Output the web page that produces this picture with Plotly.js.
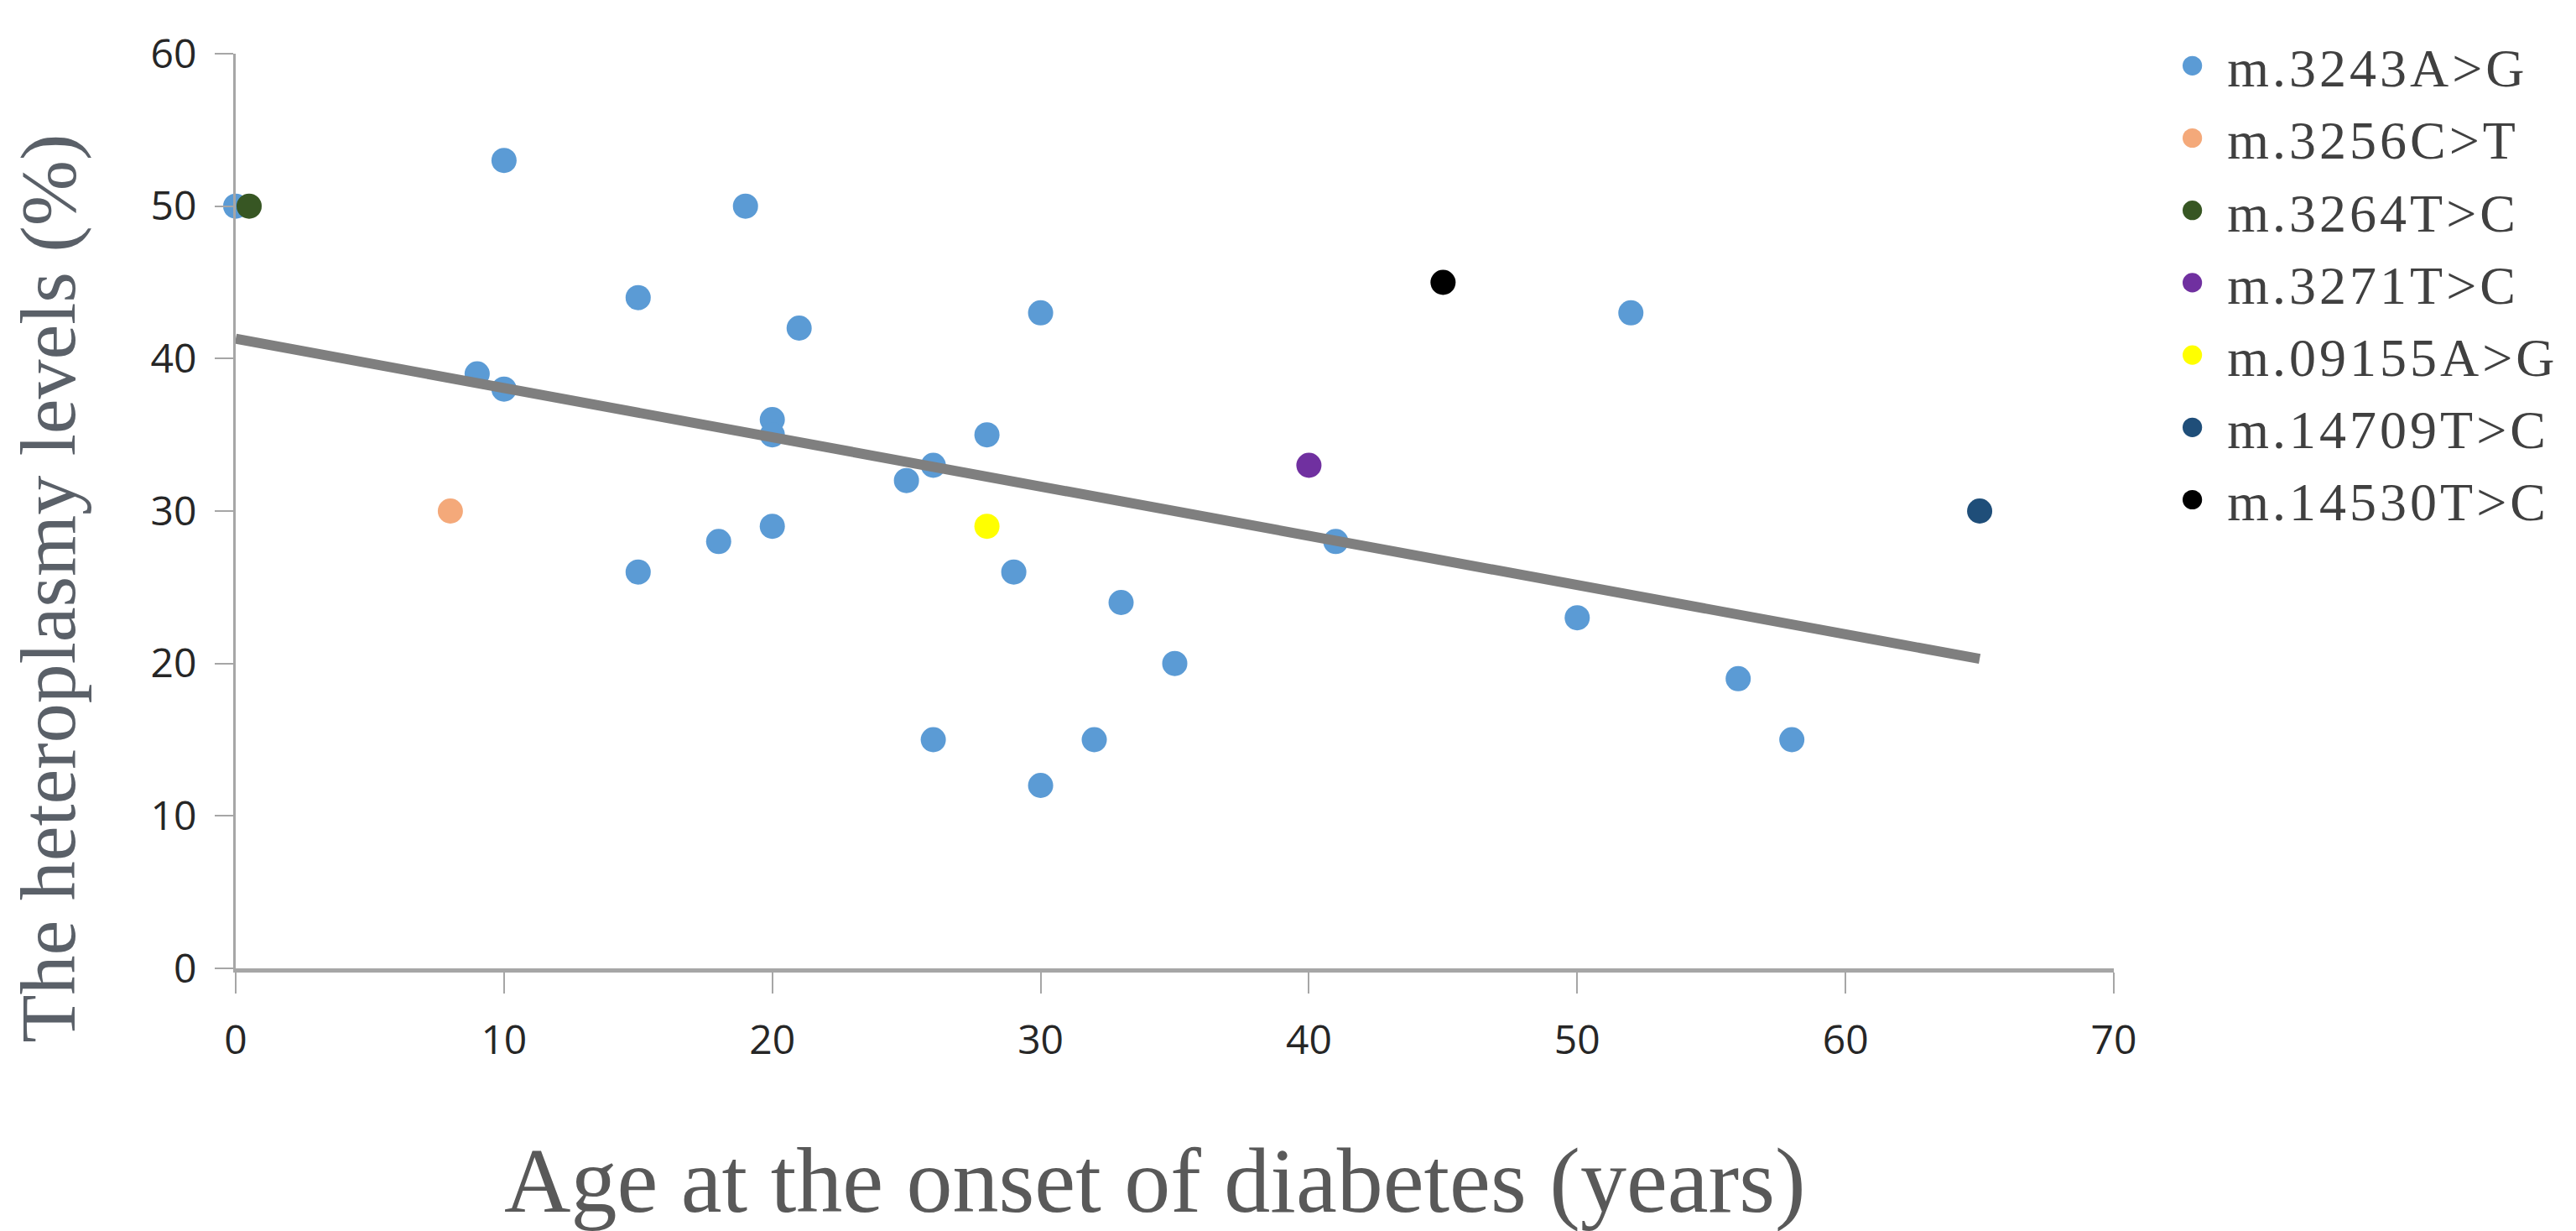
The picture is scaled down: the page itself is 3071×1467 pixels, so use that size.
<!DOCTYPE html>
<html>
<head>
<meta charset="utf-8">
<script src="https://cdn.plot.ly/plotly-3.0.1.min.js"></script>
<style>
html,body{margin:0;padding:0;background:#fff;}
#chart{width:3071px;height:1467px;}
.legendtext{letter-spacing:4px;}
#chart .legend .scatterpts{scale:1.45;translate:-18px 0;transform-box:fill-box;transform-origin:center;}
</style>
</head>
<body>
<div id="chart"></div>
<script>
// Series names and colours
const seriesNames = ["m.3243A>G", "m.3256C>T", "m.3264T>C", "m.3271T>C", "m.09155A>G", "m.14709T>C", "m.14530T>C"];
const seriesColors = ["#5B9BD5", "#F4A97A", "#375623", "#7030A0", "#FFFF00", "#1F4E79", "#000000"];

// m.3243A>G values
const ageA3243 = [0, 10, 19, 15, 21, 9, 10, 20, 20, 30, 28, 25, 26, 15, 18, 20, 29, 33, 35, 26, 30, 32, 41, 50, 52, 56, 58];
const hetA3243 = [50, 53, 50, 44, 42, 39, 38, 36, 35, 43, 35, 32, 33, 26, 28, 29, 26, 24, 20, 15, 12, 15, 28, 23, 43, 19, 15];

// Other variants (one patient each)
const ageC3256 = [8];   const hetC3256 = [30];
const ageT3264 = [0.5]; const hetT3264 = [50];
const ageT3271 = [40];  const hetT3271 = [33];
const ageA9155 = [28];  const hetA9155 = [29];
const ageT14709 = [65]; const hetT14709 = [30];
const ageT14530 = [45]; const hetT14530 = [45];

// Trend line end points
const trendX = [0, 65];
const trendY = [41.3, 20.3];

const xTicks = [0, 10, 20, 30, 40, 50, 60, 70];
const yTicks = [0, 10, 20, 30, 40, 50, 60];

const xTitle = 'Age at the onset of diabetes (years)';
const yTitle = 'The heteroplasmy levels (%)';

const xs = [ageA3243, ageC3256, ageT3264, ageT3271, ageA9155, ageT14709, ageT14530];
const ys = [hetA3243, hetC3256, hetT3264, hetT3271, hetA9155, hetT14709, hetT14530];

const markerTraces = seriesNames.map((nm, i) => ({
  x: xs[i], y: ys[i], mode: 'markers', type: 'scatter', name: nm,
  marker: {color: seriesColors[i], size: 30, line: {width: 0}},
  cliponaxis: false
}));
const trendTrace = {
  x: trendX, y: trendY, mode: 'lines', type: 'scatter', showlegend: false,
  line: {color: '#7F7F7F', width: 12}, hoverinfo: 'skip', cliponaxis: false
};
// blue points under the trend line, other variants on top
const data = [markerTraces[0], trendTrace].concat(markerTraces.slice(1));

const serif = 'Liberation Serif, Times New Roman, serif';
const sans = 'Open Sans, Noto Sans, sans-serif';

const layout = {
  width: 3071, height: 1467,
  paper_bgcolor: '#ffffff', plot_bgcolor: '#ffffff',
  margin: {l: 281, r: 551, t: 64, b: 313},
  showlegend: true,
  legend: {
    x: 1.022, xanchor: 'left', y: 1.031, yanchor: 'top',
    font: {family: serif, size: 64, color: '#404040'},
    itemsizing: 'trace', itemwidth: 76, tracegroupgap: 0, bgcolor: 'rgba(0,0,0,0)'
  },
  xaxis: {
    range: [0, 70], tickvals: xTicks, ticktext: xTicks.map(String),
    showgrid: false, zeroline: false,
    showline: true, linecolor: '#A6A6A6', linewidth: 5,
    ticks: 'outside', ticklen: 25, tickwidth: 2, tickcolor: '#A6A6A6',
    ticklabelstandoff: 14,
    tickfont: {family: sans, size: 48, color: '#262626'}
  },
  yaxis: {
    range: [0, 60], tickvals: yTicks, ticktext: yTicks.map(String),
    showgrid: false, zeroline: false,
    showline: true, linecolor: '#A6A6A6', linewidth: 3,
    ticks: 'outside', ticklen: 22, tickwidth: 2, tickcolor: '#A6A6A6',
    ticklabelstandoff: 12,
    tickfont: {family: sans, size: 48, color: '#262626'}
  },
  annotations: [
    {text: xTitle, xref: 'paper', yref: 'paper', x: 0.4895, y: -0.232,
     xanchor: 'center', yanchor: 'middle', showarrow: false,
     font: {family: serif, size: 110, color: '#595959'}},
    {text: yTitle, xref: 'paper', yref: 'paper', x: -0.1001, y: 0.4156,
     xanchor: 'center', yanchor: 'middle', showarrow: false, textangle: -90,
     font: {family: serif, size: 94, color: '#5A6068'}}
  ]
};

Plotly.newPlot('chart', data, layout, {displayModeBar: false, staticPlot: true});
</script>
</body>
</html>
